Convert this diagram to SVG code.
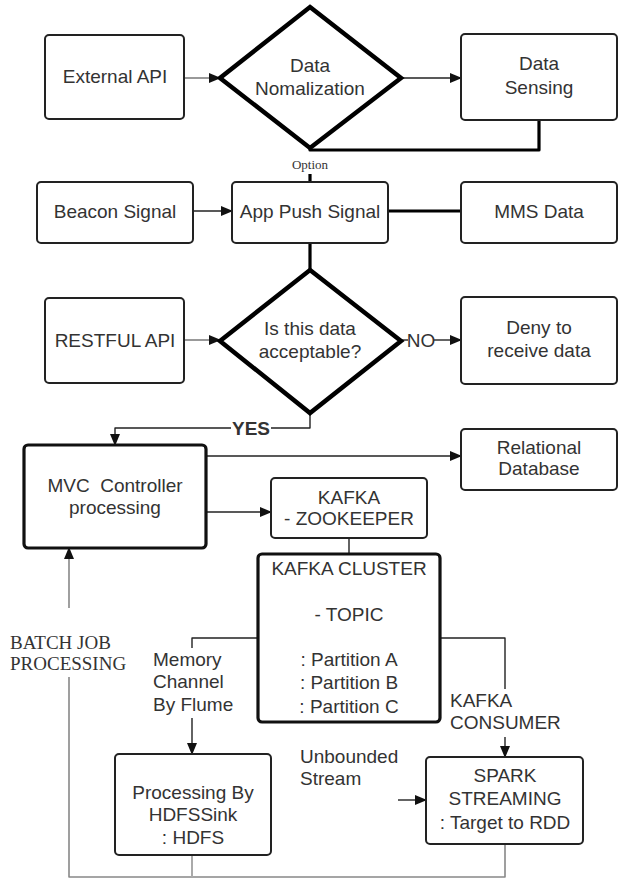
<svg xmlns="http://www.w3.org/2000/svg" width="622" height="882" viewBox="0 0 622 882">
<style>
  .box { fill: #fff; stroke: #222; stroke-width: 2; }
  .thick { fill: #fff; stroke: #111; stroke-width: 3.2; }
  .dia { fill: #fff; stroke: #000; stroke-width: 4.5; stroke-linejoin: miter; }
  .t { font-family: "Liberation Sans", Arial, sans-serif; font-size: 19px; fill: #333; text-anchor: middle; }
  .tl { font-family: "Liberation Sans", Arial, sans-serif; font-size: 19px; fill: #333; text-anchor: start; }
  .serif { font-family: "Liberation Serif", "Times New Roman", serif; fill: #333; }
  .c { fill: none; stroke: #222; stroke-width: 1.4; stroke-linejoin: round; }
  .grey { fill: none; stroke: #999; stroke-width: 2; }
  .heavy { fill: none; stroke: #000; stroke-width: 3.2; stroke-linejoin: round; }
</style>
<defs>
  <marker id="ah" markerWidth="12" markerHeight="10" refX="11" refY="5" orient="auto" markerUnits="userSpaceOnUse">
    <path d="M0,0 L12,5 L0,10 z" fill="#111"/>
  </marker>
</defs>
<rect width="622" height="882" fill="#fff"/>

<g id="connectors">
  <line class="grey" x1="184" y1="78" x2="220" y2="78" marker-end="url(#ah)"/>
  <line class="c" x1="401" y1="78" x2="461" y2="78" stroke-width="2.2" marker-end="url(#ah)"/>
  <path class="heavy" d="M539,120 V150 H310 V147"/>
  <line class="heavy" x1="310" y1="174" x2="310" y2="182"/>
  <line class="c" x1="193" y1="211" x2="232" y2="211" marker-end="url(#ah)"/>
  <line class="heavy" x1="388" y1="211" x2="461" y2="211" stroke-width="3.5"/>
  <line class="heavy" x1="310" y1="243" x2="310" y2="272"/>
  <line class="grey" x1="184" y1="340" x2="220" y2="340" marker-end="url(#ah)"/>
  <line class="c" x1="401" y1="340" x2="408" y2="340" stroke-width="1.8"/>
  <line class="c" x1="434" y1="340" x2="461" y2="340" stroke-width="1.8" marker-end="url(#ah)"/>
  <path class="c" d="M310,413 V428 H271" stroke-width="1.8"/>
  <path class="c" d="M231,428 H115 V445" stroke-width="1.8" marker-end="url(#ah)"/>
  <line class="c" x1="206" y1="456" x2="461" y2="456" marker-end="url(#ah)"/>
  <line class="c" x1="206" y1="512" x2="271" y2="512" marker-end="url(#ah)"/>
  <line class="c" x1="349" y1="538" x2="349" y2="554"/>
  <path class="c" d="M258,638 H192 V648"/>
  <line class="c" x1="192" y1="718" x2="192" y2="754" marker-end="url(#ah)"/>
  <path class="c" d="M440,638 H505 V689"/>
  <line class="c" x1="505" y1="737" x2="505" y2="757" marker-end="url(#ah)"/>
  <line class="c" x1="398" y1="800" x2="426" y2="800" marker-end="url(#ah)"/>
  <line x1="69" y1="608" x2="69" y2="548" stroke="#888" stroke-width="1.6" marker-end="url(#ah)"/>
  <path d="M69,677 V877 H505 V844" fill="none" stroke="#888" stroke-width="1.6" stroke-linejoin="round"/>
  <line x1="192" y1="855" x2="192" y2="877" stroke="#aaa" stroke-width="2"/>
  <text class="serif" x="310" y="169" font-size="13" text-anchor="middle">Option</text>
  <text class="t" x="421" y="347">NO</text>
  <text class="t" x="251" y="435" font-weight="bold" fill="#222">YES</text>
  <text class="serif" x="10" y="649" font-size="19">BATCH JOB</text>
  <text class="serif" x="10" y="670" font-size="19">PROCESSING</text>
  <text class="tl" x="153" y="666">Memory</text>
  <text class="tl" x="153" y="688">Channel</text>
  <text class="tl" x="153" y="711">By Flume</text>
  <text class="tl" x="450" y="707">KAFKA</text>
  <text class="tl" x="450" y="729">CONSUMER</text>
  <text class="tl" x="300" y="763">Unbounded</text>
  <text class="tl" x="300" y="785">Stream</text>
</g>

<g id="external-api">
  <rect class="box" x="45" y="35" width="139" height="84" rx="4"/>
  <text class="t" x="115" y="83">External API</text>
</g>
<g id="data-normalization">
  <polygon class="dia" points="310,7 401,78 310,148 220,78"/>
  <text class="t" x="310" y="72">Data</text>
  <text class="t" x="310" y="95">Nomalization</text>
</g>
<g id="data-sensing">
  <rect class="box" x="461" y="34" width="156" height="86" rx="4"/>
  <text class="t" x="539" y="70">Data</text>
  <text class="t" x="539" y="94">Sensing</text>
</g>
<g id="beacon-signal">
  <rect class="box" x="37" y="182" width="156" height="61" rx="4"/>
  <text class="t" x="115" y="218">Beacon Signal</text>
</g>
<g id="app-push-signal">
  <rect class="box" x="232" y="182" width="156" height="61" rx="4"/>
  <text class="t" x="310" y="218">App Push Signal</text>
</g>
<g id="mms-data">
  <rect class="box" x="461" y="182" width="156" height="61" rx="4"/>
  <text class="t" x="539" y="218">MMS Data</text>
</g>
<g id="restful-api">
  <rect class="box" x="45" y="298" width="139" height="85" rx="4"/>
  <text class="t" x="115" y="347">RESTFUL API</text>
</g>
<g id="acceptable">
  <polygon class="dia" points="310,270 401,341 310,413 220,341"/>
  <text class="t" x="310" y="335">Is this data</text>
  <text class="t" x="310" y="358">acceptable?</text>
</g>
<g id="deny">
  <rect class="box" x="461" y="297" width="156" height="87" rx="4"/>
  <text class="t" x="539" y="334">Deny to</text>
  <text class="t" x="539" y="357">receive data</text>
</g>
<g id="mvc-controller">
  <rect class="thick" x="24" y="445" width="182" height="103" rx="4"/>
  <text class="t" x="115" y="492" xml:space="preserve">MVC  Controller</text>
  <text class="t" x="115" y="514">processing</text>
</g>
<g id="relational-database">
  <rect class="box" x="461" y="429" width="156" height="61" rx="4"/>
  <text class="t" x="539" y="454">Relational</text>
  <text class="t" x="539" y="475">Database</text>
</g>
<g id="kafka-zookeeper">
  <rect class="box" x="271" y="478" width="156" height="60" rx="4"/>
  <text class="t" x="349" y="504">KAFKA</text>
  <text class="t" x="349" y="525">- ZOOKEEPER</text>
</g>
<g id="kafka-cluster">
  <rect class="thick" x="258" y="554" width="182" height="168" rx="4"/>
  <text class="t" x="349" y="575">KAFKA CLUSTER</text>
  <text class="t" x="349" y="621">- TOPIC</text>
  <text class="t" x="349" y="666">: Partition A</text>
  <text class="t" x="349" y="689">: Partition B</text>
  <text class="t" x="349" y="713">: Partition C</text>
</g>
<g id="hdfs-sink">
  <rect class="box" x="115" y="754" width="156" height="101" rx="4" stroke-width="2.5"/>
  <text class="t" x="193" y="799">Processing By</text>
  <text class="t" x="193" y="821">HDFSSink</text>
  <text class="t" x="193" y="844">: HDFS</text>
</g>
<g id="spark-streaming">
  <rect class="box" x="426" y="757" width="157" height="87" rx="4" stroke-width="2.5"/>
  <text class="t" x="505" y="782">SPARK</text>
  <text class="t" x="505" y="805">STREAMING</text>
  <text class="t" x="505" y="829">: Target to RDD</text>
</g>
</svg>
